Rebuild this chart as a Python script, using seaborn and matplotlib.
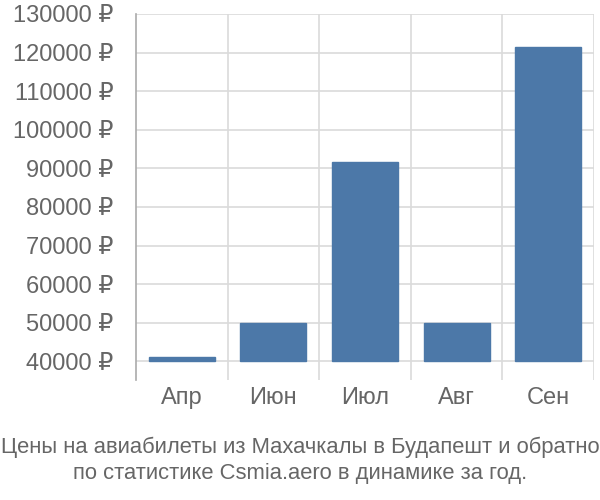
import matplotlib
matplotlib.use("Agg")
import matplotlib.pyplot as plt
import seaborn as sns
import pandas as pd
from matplotlib.ticker import FuncFormatter

months = ["Апр", "Июн", "Июл", "Авг", "Сен"]
prices = [41000, 49850, 91650, 49900, 121400]
base_value = 40000
caption_lines = ["Цены на авиабилеты из Махачкалы в Будапешт и обратно",
                 "по статистике Csmia.aero в динамике за год."]

sns.set_theme(style="white")
plt.rcParams["font.family"] = ["Liberation Sans", "DejaVu Sans"]

df = pd.DataFrame({"month": months, "price": prices})

fig = plt.figure(figsize=(6, 5), dpi=100)
ax = fig.add_axes([0.2267, 0.24, 0.99 - 0.2267, 0.972 - 0.24])

sns.barplot(data=df, x="month", y="price", color="#4c78a8", saturation=1,
            width=0.72, ax=ax, zorder=3)
for p, v in zip(ax.patches, prices):
    p.set_y(base_value)
    p.set_height(v - base_value)
    p.set_edgecolor("#4c78a8")

ax.set_ylim(35150, 130000)
ax.set_xlim(-0.5, len(months) - 0.5)

grid_c = "#dadada"
ax.yaxis.set_major_formatter(FuncFormatter(lambda v, p: f"{int(v)} ₽"))
ax.set_yticks(range(40000, 130001, 10000))
for y in range(40000, 130001, 10000):
    ax.axhline(y, color=grid_c, lw=1.2, zorder=1)
for xb in [i + 0.5 for i in range(len(months))]:
    ax.axvline(xb, color=grid_c, lw=1.2, zorder=1)

ax.tick_params(axis="y", length=14.4, width=1.2, color=grid_c, pad=2,
               labelsize=17, labelcolor="#666666")
ax.tick_params(axis="x", length=0, pad=5, labelsize=17, labelcolor="#666666")

for s in ["top", "right", "bottom"]:
    ax.spines[s].set_visible(False)
ax.spines["left"].set_color("#aaaaaa")
ax.spines["left"].set_linewidth(1.2)
ax.set_xlabel("")
ax.set_ylabel("")

fig.text(0.5, 1 - 447 / 500, caption_lines[0], ha="center", va="center",
         fontsize=15.8, color="#666666")
fig.text(0.5, 1 - 473 / 500, caption_lines[1], ha="center", va="center",
         fontsize=15.8, color="#666666")

fig.savefig("out.png", dpi=100)
